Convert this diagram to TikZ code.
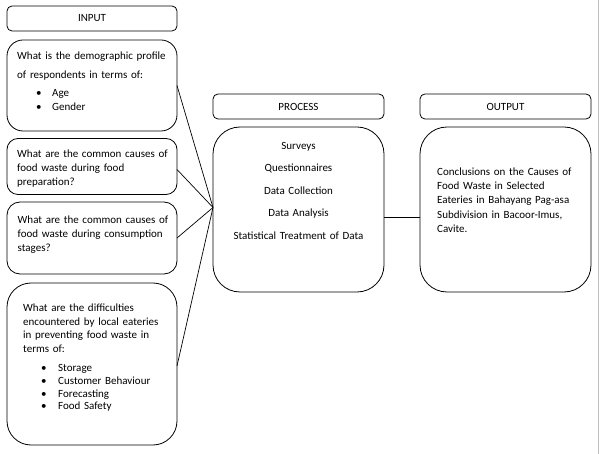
\documentclass[tikz,border=0pt]{standalone}
\usepackage{fontspec}
\setmainfont{Carlito}
\begin{document}
\begin{tikzpicture}[x=1pt,y=-1pt,
  box/.style={draw=black, line width=0.8pt, inner sep=0pt, outer sep=0pt},
  hdr/.style={box, rounded corners=5pt, minimum width=170pt, minimum height=25pt, font=\fontsize{11}{13}\selectfont},
  txt/.style={inner sep=0pt, anchor=base west, align=left, font=\fontsize{11}{14.2}\selectfont},
  link/.style={draw=black, line width=0.7pt}]
\useasboundingbox (0,0) rectangle (600,454);
\fill[white] (0,0) rectangle (600,454);
\draw[draw=black!25, line width=1pt] (598.5,0) -- (598.5,454);

% headers
\node[hdr] (hin) at (92,18.5) {INPUT};
\node[hdr, minimum width=171pt] (hproc) at (298.5,106.5) {PROCESS};
\node[hdr, minimum width=171pt] (hout) at (505.5,106.5) {OUTPUT};

% input boxes
\node[box, rounded corners=16pt, minimum width=170pt, minimum height=91pt] (q1) at (92,85.5) {};
\node[box, rounded corners=11pt, minimum width=170pt, minimum height=56pt] (q2) at (92,166.5) {};
\node[box, rounded corners=13pt, minimum width=170pt, minimum height=72pt] (q3) at (92,238) {};
\node[box, rounded corners=24pt, minimum width=170pt, minimum height=162pt] (q4) at (92,364) {};

% process and output
\node[box, rounded corners=27pt, minimum width=171pt, minimum height=165pt] (proc) at (298.5,209.5) {};
\node[box, rounded corners=27pt, minimum width=171pt, minimum height=165pt] (out) at (505.5,209.5) {};

% texts
\node[txt, text width=160pt] (t1) at (17,59.5) {What is the demographic profile\\[4.5pt]
of respondents in terms of:\\[4.5pt]
\hspace*{19pt}\makebox[16pt][l]{\textbullet}Age\\[-1pt]
\hspace*{19pt}\makebox[16pt][l]{\textbullet}Gender};
\node[txt, text width=160pt] (t2) at (17,157.5) {What are the common causes of\\
food waste during food\\
preparation?};
\node[txt, text width=160pt] (t3) at (17.5,223.5) {What are the common causes of\\
food waste during consumption\\
stages?};
\node[txt, text width=150pt] (t4) at (23,311.5) {What are the difficulties\\[-0.5pt]
encountered by local eateries\\[-0.5pt]
in preventing food waste in\\[-0.5pt]
terms of:\\[5pt]
\hspace*{18pt}\makebox[17pt][l]{\textbullet}Storage\\[-1.5pt]
\hspace*{18pt}\makebox[17pt][l]{\textbullet}Customer Behaviour\\[-1.5pt]
\hspace*{18pt}\makebox[17pt][l]{\textbullet}Forecasting\\[-1.5pt]
\hspace*{18pt}\makebox[17pt][l]{\textbullet}Food Safety};
\node[inner sep=0pt, anchor=base, text width=171pt, align=center, font=\fontsize{11}{22.5}\selectfont] (tp) at (298.5,149.5) {Surveys\\
Questionnaires\\
Data Collection\\
Data Analysis\\
Statistical Treatment of Data};
\node[txt, text width=150pt] (to) at (437,175.5) {Conclusions on the Causes of\\
Food Waste in Selected\\
Eateries in Bahayang Pag-asa\\
Subdivision in Bacoor-Imus,\\
Cavite.};

% connectors
\coordinate (join) at ([yshift=2pt]proc.west);
\draw[link] (q1.east) -- (join);
\draw[link] ([yshift=-3pt]q2.east) -- (join);
\draw[link] (q3.east) -- (join);
\draw[link] ([yshift=-2pt]q4.east) -- (join);
\draw[link] ([yshift=-7.5pt]proc.east) -- ([yshift=-7.5pt]out.west);
\end{tikzpicture}
\end{document}
